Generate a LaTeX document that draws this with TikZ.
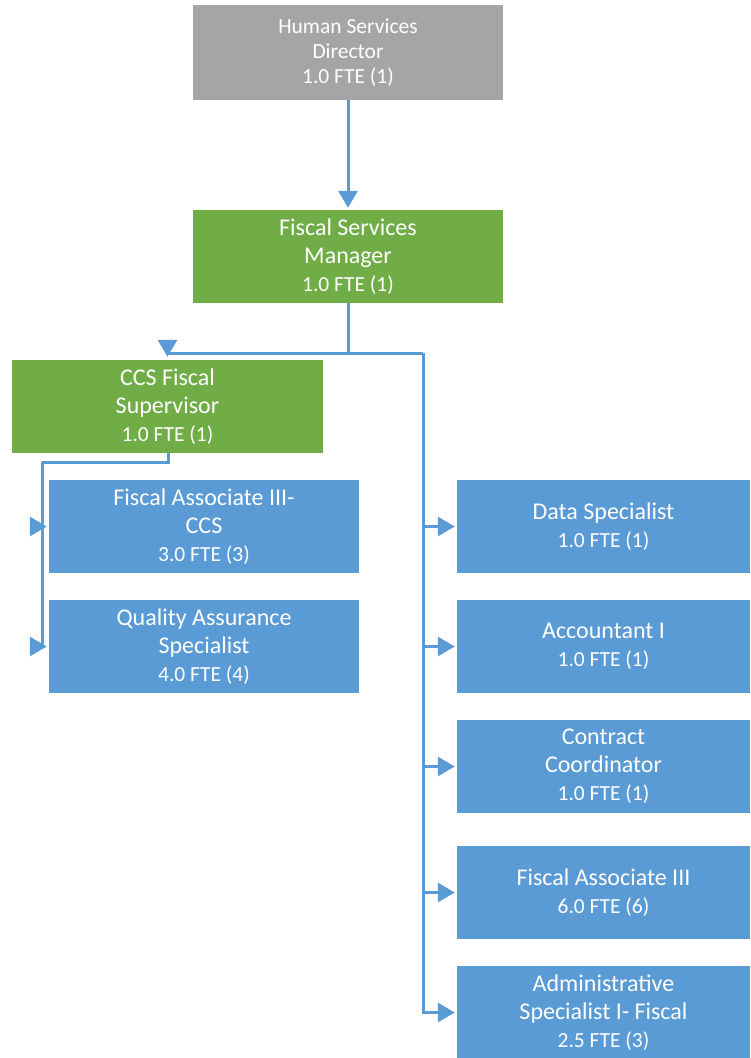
\documentclass[tikz,border=0pt]{standalone}
\usepackage{fontspec}
\setmainfont{Carlito}
\usetikzlibrary{arrows.meta}
\definecolor{orggray}{HTML}{A5A5A5}
\definecolor{orggreen}{HTML}{70AD47}
\definecolor{orgblue}{HTML}{5B9BD5}
\newcommand{\fte}[1]{{\fontsize{21.5}{28}\selectfont #1}}
\tikzset{
  unitbox/.style={rectangle, inner sep=0pt, align=center, text=white,
    minimum height=93pt, font=\fontsize{24}{28}\selectfont},
  leadbox/.style={unitbox, fill=orggreen, minimum width=310pt},
  staffbox/.style={unitbox, fill=orgblue, minimum width=310pt},
  sidebox/.style={unitbox, fill=orgblue, minimum width=293pt},
  link/.style={draw=orgblue, line width=3pt},
  arr/.style={link, -{Triangle[length=17pt,width=19pt]}, shorten >=2pt},
}
\begin{document}
\begin{tikzpicture}[x=1pt,y=-1pt]
\useasboundingbox (0,0) rectangle (750,1058);

% leadership
\node[unitbox, fill=orggray, minimum width=310pt, minimum height=95pt,
      font=\fontsize{21.5}{25}\selectfont] (dir) at (348,52.5)
  {Human Services\\Director\\1.0 FTE (1)};
\node[leadbox] (mgr) at (348,256.5) {Fiscal Services\\Manager\\\fte{1.0 FTE (1)}};
\node[leadbox, minimum width=311pt] (sup) at (167.5,406.5) {CCS Fiscal\\Supervisor\\\fte{1.0 FTE (1)}};

% CCS fiscal team
\node[staffbox] (fa) at (204,526.5) {Fiscal Associate III-\\CCS\\\fte{3.0 FTE (3)}};
\node[staffbox] (qa) at (204,646.5) {Quality Assurance\\Specialist\\\fte{4.0 FTE (4)}};

% direct reports of the manager
\node[sidebox] (ds) at (603.5,526.5) {Data Specialist\\\fte{1.0 FTE (1)}};
\node[sidebox] (ac) at (603.5,646.5) {Accountant I\\\fte{1.0 FTE (1)}};
\node[sidebox] (cc) at (603.5,766.5) {Contract\\Coordinator\\\fte{1.0 FTE (1)}};
\node[sidebox] (f3) at (603.5,892.5) {Fiscal Associate III\\\fte{6.0 FTE (6)}};
\node[sidebox] (as) at (603.5,1012.5) {Administrative\\Specialist I- Fiscal\\\fte{2.5 FTE (3)}};

% connectors
\coordinate (mgrbus) at (348,353);
\coordinate (rtrunk) at (423,353);
\coordinate (ltrunk) at (42,462);
\coordinate (supbus) at (168,462);

\draw[arr] (dir.south) -- (mgr.north);
\draw[link] (mgr.south) -- (mgrbus) -- (rtrunk);
\draw[arr, shorten >=3pt] (mgrbus) -| (sup.north);
\foreach \b in {ds,ac,cc,f3,as}
  \draw[arr] (rtrunk) |- (\b.west);

\draw[link] (sup.south -| supbus) -- (supbus) -- (ltrunk);
\foreach \b in {fa,qa}
  \draw[arr] (ltrunk) |- (\b.west);
\end{tikzpicture}
\end{document}
